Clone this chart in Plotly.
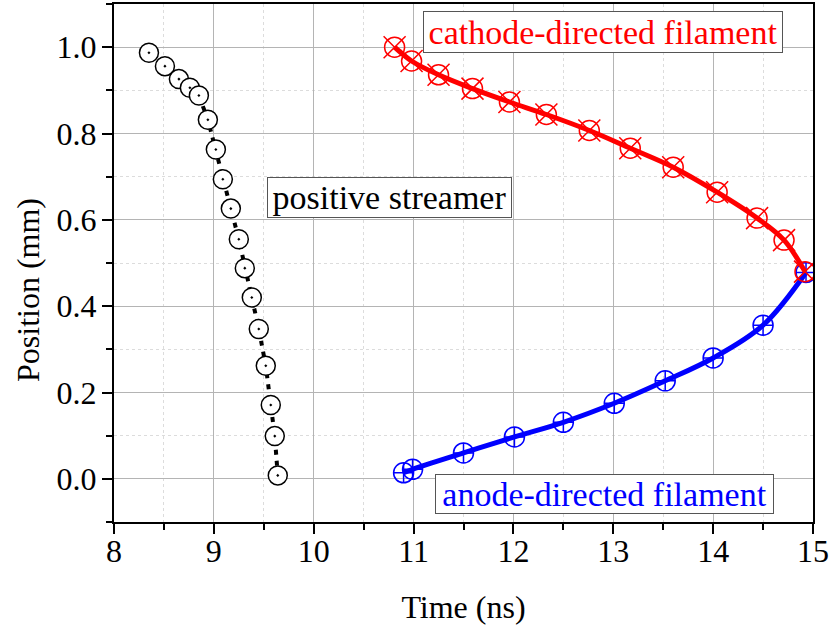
import plotly.graph_objects as go

# positive streamer (black)
ps_t = [8.35, 8.51, 8.65, 8.76, 8.85, 8.94, 9.02, 9.09, 9.17, 9.25, 9.31, 9.38, 9.45, 9.52, 9.57, 9.61, 9.64]
ps_y = [0.987, 0.956, 0.926, 0.906, 0.888, 0.832, 0.763, 0.694, 0.626, 0.555, 0.488, 0.420, 0.347, 0.262, 0.171, 0.099, 0.008]

# cathode-directed filament (red)
cd_t = [10.81, 10.98, 11.25, 11.59, 11.96, 12.33, 12.76, 13.17, 13.60, 14.04, 14.44, 14.71, 14.92]
cd_y = [1.000, 0.968, 0.936, 0.904, 0.873, 0.844, 0.807, 0.766, 0.722, 0.664, 0.604, 0.553, 0.480]

# anode-directed filament (blue)
ad_t = [10.90, 10.99, 11.50, 12.01, 12.50, 13.01, 13.52, 14.00, 14.50, 14.93]
ad_y = [0.014, 0.022, 0.060, 0.097, 0.131, 0.175, 0.227, 0.280, 0.356, 0.478]

x_ticks = [8, 9, 10, 11, 12, 13, 14, 15]
y_ticks = [0.0, 0.2, 0.4, 0.6, 0.8, 1.0]

FONT = "Liberation Serif"
TICK_FS = 32
TITLE_FS = 32
ANN_FS = 34

fig = go.Figure()

# black
fig.add_trace(go.Scatter(
    x=ps_t, y=ps_y, mode="lines+markers",
    line=dict(color="black", width=4, dash="5px,6px"),
    marker=dict(symbol="circle-dot", size=19, color="white",
                line=dict(color="black", width=1.5)),
    showlegend=False))

# blue
fig.add_trace(go.Scatter(
    x=ad_t, y=ad_y, mode="lines",
    line=dict(color="#0000ff", width=5, shape="spline", smoothing=1),
    showlegend=False))
fig.add_trace(go.Scatter(
    x=ad_t, y=ad_y, mode="markers",
    marker=dict(symbol="circle-cross-open", size=20, color="#0000ff",
                line=dict(color="#0000ff", width=1.5)),
    showlegend=False))

# red
fig.add_trace(go.Scatter(
    x=cd_t, y=cd_y, mode="lines",
    line=dict(color="#ff0000", width=5, shape="spline", smoothing=1),
    showlegend=False))
fig.add_trace(go.Scatter(
    x=cd_t, y=cd_y, mode="markers",
    marker=dict(symbol="circle-open", size=20, color="#ff0000",
                line=dict(color="#ff0000", width=1.5)),
    showlegend=False))
fig.add_trace(go.Scatter(
    x=cd_t, y=cd_y, mode="markers",
    marker=dict(symbol="x-thin-open", size=22, color="#ff0000",
                line=dict(color="#ff0000", width=1.5)),
    showlegend=False))

box = dict(bgcolor="white", bordercolor="#555555", borderwidth=1, borderpad=0,
           showarrow=False, xref="x", yref="y")
fig.add_annotation(x=10.76, y=0.652, text="positive streamer",
                   font=dict(family=FONT, size=ANN_FS, color="black"),
                   width=243, height=39, **box)
fig.add_annotation(x=12.895, y=1.036, text="cathode-directed filament",
                   font=dict(family=FONT, size=ANN_FS, color="#ff0000"),
                   width=358, height=40, **box)
fig.add_annotation(x=12.91, y=-0.036, text="anode-directed filament",
                   font=dict(family=FONT, size=ANN_FS, color="#0000ff"),
                   width=337, height=38, **box)

axis_common = dict(
    showline=True, linecolor="black", linewidth=2, mirror=True,
    ticks="outside", ticklen=10, tickwidth=2, tickcolor="black",
    showgrid=True, gridcolor="#b4b4b4", gridwidth=1,
    tickfont=dict(family=FONT, size=TICK_FS, color="black"),
    zeroline=False,
)

fig.update_xaxes(range=[8, 15], tickvals=x_ticks, ticktext=[str(v) for v in x_ticks],
                 minor=dict(dtick=0.5, ticks="outside", ticklen=6, tickwidth=2, tickcolor="black",
                            showgrid=True, gridcolor="#dcdcdc", griddash="dot", gridwidth=1),
                 title=dict(text="Time (ns)", font=dict(family=FONT, size=TITLE_FS, color="black"),
                            standoff=27),
                 ticklabelstandoff=-10,
                 automargin=False,
                 **axis_common)
fig.update_yaxes(range=[-0.1, 1.1], tickvals=y_ticks, ticktext=[f"{v:.1f}" for v in y_ticks],
                 minor=dict(dtick=0.1, tick0=0, ticks="outside", ticklen=6, tickwidth=2, tickcolor="black",
                            showgrid=True, gridcolor="#dcdcdc", griddash="dot", gridwidth=1),
                 ticklabelstandoff=-1, automargin=False,
                 **axis_common)

fig.add_annotation(text="Position (mm)", textangle=-90, xref="paper", yref="paper",
                   x=(28 - 114) / 699, y=(522 - 290) / 518, xanchor="center", yanchor="middle",
                   showarrow=False, font=dict(family=FONT, size=TITLE_FS, color="black"))

fig.update_layout(
    width=830, height=634,
    margin=dict(l=114, r=17, t=4, b=112),
    paper_bgcolor="white", plot_bgcolor="white",
    font=dict(family=FONT, color="black"),
)

fig.write_html("out.html", config={"displayModeBar": False},
               post_script="document.body.style.margin='0';")
